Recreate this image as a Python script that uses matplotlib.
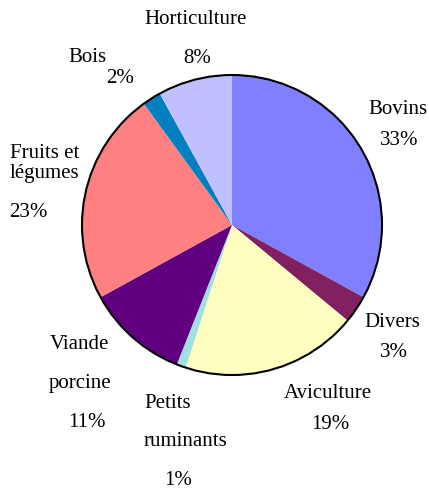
import matplotlib.pyplot as plt
from matplotlib.patches import Circle

plt.rcParams["font.family"] = ["Liberation Serif", "DejaVu Serif"]

# data
categories = ["Bovins", "Divers", "Aviculture", "Petits ruminants",
              "Viande porcine", "Fruits et légumes", "Bois", "Horticulture"]
shares = [33, 3, 19, 1, 11, 23, 2, 8]
colors = ["#8080FF", "#802060", "#FFFFC0", "#A0E0E0",
          "#600080", "#FF8080", "#0080C0", "#C0C0FF"]

# label lines: (text, x, y, ha) in pixel coordinates
label_lines = [
    ("Horticulture", 196, 19, "center"),
    ("8%", 197, 58, "center"),
    ("Bois", 87, 57, "center"),
    ("2%", 120, 78, "center"),
    ("Bovins", 368, 109, "left"),
    ("33%", 399, 140, "center"),
    ("Fruits et", 10, 153, "left"),
    ("légumes", 10, 173, "left"),
    ("23%", 28, 212, "center"),
    ("Divers", 392, 322, "center"),
    ("3%", 394, 352, "center"),
    ("Aviculture", 328, 393, "center"),
    ("19%", 330, 424, "center"),
    ("Viande", 79, 344, "center"),
    ("porcine", 80, 383, "center"),
    ("11%", 87, 422, "center"),
    ("Petits", 144, 403, "left"),
    ("ruminants", 144, 441, "left"),
    ("1%", 178, 480, "center"),
]

W, H = 429, 490
cx, cy, r = 232, 225, 150

fig = plt.figure(figsize=(W / 100, H / 100), dpi=100)
ax = fig.add_axes([0, 0, 1, 1])

# y axis is flipped (pixel coords), so start at -90 and go "counterclockwise"
# in data space, which shows as clockwise from the top
wedges, _ = ax.pie(
    shares,
    colors=colors,
    startangle=-90,
    counterclock=True,
    center=(cx, cy),
    radius=r,
    frame=True,
    wedgeprops={"linewidth": 0},
)
ax.set_xlim(0, W)
ax.set_ylim(H, 0)
ax.set_aspect("equal")
ax.axis("off")

ax.add_patch(Circle((cx, cy), r, fill=False, edgecolor="black", linewidth=1.5))

for text, x, y, ha in label_lines:
    ax.text(x, y, text, ha=ha, va="center", fontsize=15, color="black")

fig.savefig("out.png", dpi=100, facecolor="white")
